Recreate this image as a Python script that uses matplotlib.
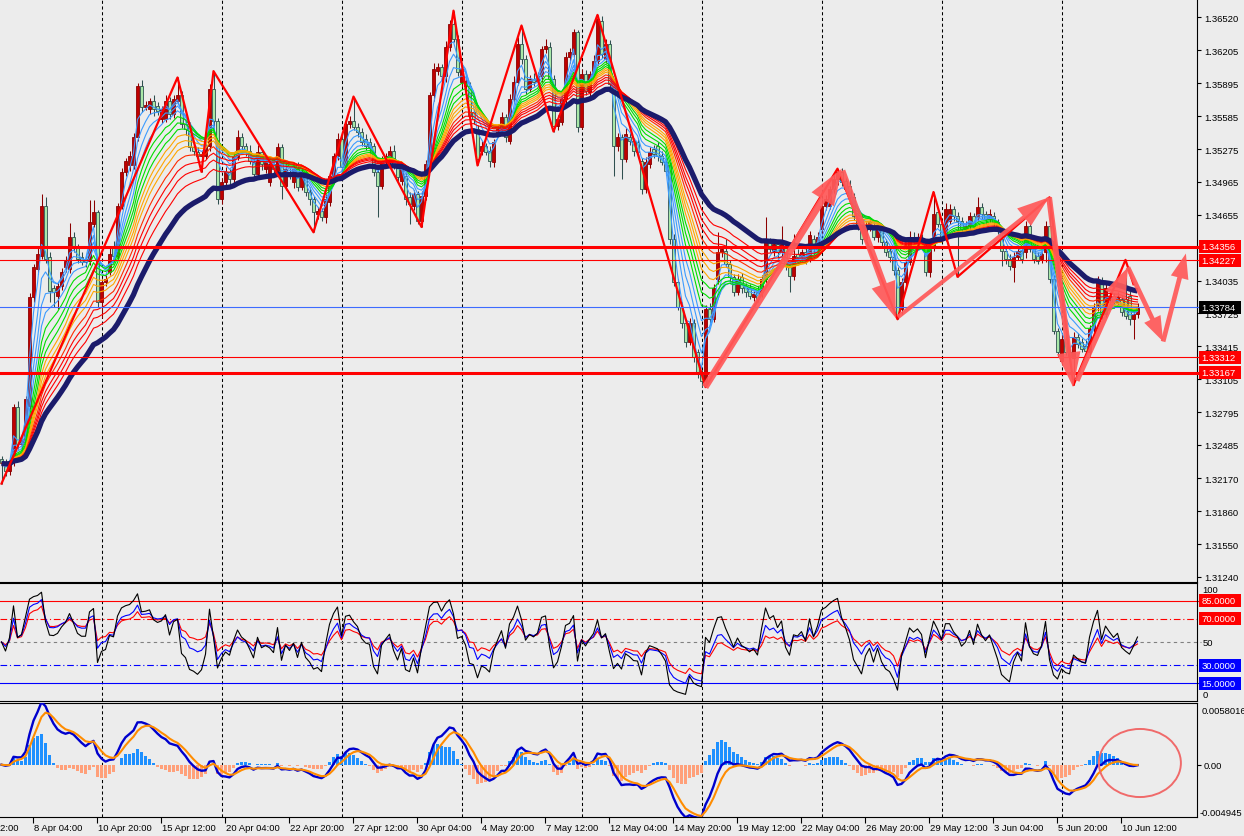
import numpy as np
import pandas as pd
import matplotlib
matplotlib.use("Agg")
import matplotlib.pyplot as plt
import matplotlib.transforms as mtransforms
from matplotlib.patches import Ellipse, Rectangle

plt.rcParams['font.family'] = ['Liberation Sans', 'DejaVu Sans']

# ---------------- data (H4 bars) ----------------
opens = [
 1.3235,1.3231,1.3224,1.3232,1.3284,1.3249,1.3251,1.3285,1.3388,1.3414,
 1.3427,1.3474,1.3426,1.3396,1.3389,1.3398,1.3416,1.3414,1.3445,1.3435,
 1.3426,1.3424,1.3422,1.3457,1.3468,1.3383,1.3402,1.3412,1.3435,1.3427,
 1.3474,1.3506,1.3512,1.3512,1.3539,1.3587,1.3567,1.3565,1.3573,1.3568,
 1.3556,1.3556,1.3573,1.3561,1.3573,1.3578,1.3551,1.3548,1.3529,1.3525,
 1.3521,1.3521,1.3530,1.3584,1.3554,1.3480,1.3496,1.3506,1.3499,1.3520,
 1.3539,1.3530,1.3526,1.3515,1.3504,1.3525,1.3509,1.3496,1.3513,1.3507,
 1.3529,1.3493,1.3506,1.3496,1.3509,1.3492,1.3506,1.3487,1.3480,1.3466,
 1.3469,1.3463,1.3478,1.3502,1.3521,1.3537,1.3511,1.3551,1.3554,1.3548,
 1.3544,1.3537,1.3534,1.3530,1.3506,1.3493,1.3515,1.3515,1.3526,1.3512,
 1.3497,1.3502,1.3482,1.3474,1.3485,1.3460,1.3483,1.3513,1.3578,1.3601,
 1.3605,1.3596,1.3624,1.3645,1.3631,1.3591,1.3587,1.3587,1.3562,1.3546,
 1.3526,1.3530,1.3526,1.3515,1.3542,1.3545,1.3558,1.3535,1.3575,1.3591,
 1.3627,1.3612,1.3584,1.3594,1.3592,1.3596,1.3622,1.3624,1.3594,1.3549,
 1.3553,1.3575,1.3614,1.3617,1.3638,1.3548,1.3598,1.3581,1.3598,1.3611,
 1.3648,1.3612,1.3627,1.3586,1.3530,1.3539,1.3518,1.3539,1.3535,1.3534,
 1.3516,1.3490,1.3513,1.3528,1.3530,1.3521,1.3515,1.3512,1.3443,1.3402,
 1.3379,1.3363,1.3346,1.3363,1.3336,1.3315,1.3309,1.3377,1.3367,1.3405,
 1.3430,1.3431,1.3419,1.3407,1.3393,1.3407,1.3398,1.3396,1.3388,1.3393,
 1.3393,1.3405,1.3441,1.3431,1.3438,1.3430,1.3436,1.3417,1.3408,1.3429,
 1.3426,1.3430,1.3424,1.3443,1.3433,1.3452,1.3474,1.3474,1.3490,1.3499,
 1.3506,1.3497,1.3493,1.3482,1.3464,1.3462,1.3443,1.3454,1.3455,1.3445,
 1.3452,1.3440,1.3431,1.3426,1.3413,1.3377,1.3402,1.3421,1.3445,1.3440,
 1.3443,1.3436,1.3412,1.3435,1.3468,1.3457,1.3445,1.3460,1.3471,1.3464,
 1.3460,1.3452,1.3455,1.3464,1.3463,1.3473,1.3466,1.3462,1.3464,1.3459,
 1.3443,1.3431,1.3424,1.3416,1.3426,1.3431,1.3430,1.3455,1.3433,1.3427,
 1.3424,1.3430,1.3455,1.3405,1.3356,1.3328,1.3348,1.3336,1.3330,1.3350,
 1.3346,1.3342,1.3336,1.3358,1.3379,1.3403,1.3372,1.3386,1.3389,1.3383,
 1.3386,1.3386,1.3389,1.3367,1.3372]
closes = [
 1.3231,1.3224,1.3233,1.3284,1.3249,1.3254,1.3292,1.3388,1.3416,1.3429,
 1.3474,1.3424,1.3394,1.3393,1.3398,1.3412,1.3422,1.3445,1.3435,1.3424,
 1.3421,1.3421,1.3459,1.3468,1.3383,1.3402,1.3405,1.3429,1.3427,1.3474,
 1.3506,1.3516,1.3521,1.3539,1.3587,1.3567,1.3569,1.3573,1.3565,1.3563,
 1.3565,1.3573,1.3561,1.3575,1.3578,1.3551,1.3546,1.3529,1.3526,1.3521,
 1.3523,1.3530,1.3584,1.3554,1.3480,1.3496,1.3506,1.3499,1.3520,1.3539,
 1.3530,1.3526,1.3516,1.3504,1.3525,1.3513,1.3515,1.3513,1.3509,1.3529,
 1.3493,1.3509,1.3502,1.3509,1.3492,1.3506,1.3487,1.3480,1.3468,1.3469,
 1.3463,1.3480,1.3502,1.3521,1.3537,1.3511,1.3551,1.3554,1.3548,1.3544,
 1.3534,1.3530,1.3529,1.3506,1.3493,1.3515,1.3521,1.3526,1.3512,1.3501,
 1.3509,1.3480,1.3476,1.3485,1.3460,1.3483,1.3513,1.3578,1.3603,1.3605,
 1.3596,1.3624,1.3645,1.3631,1.3600,1.3603,1.3592,1.3559,1.3556,1.3518,
 1.3530,1.3525,1.3516,1.3534,1.3546,1.3558,1.3539,1.3575,1.3591,1.3627,
 1.3612,1.3584,1.3594,1.3591,1.3596,1.3622,1.3625,1.3594,1.3549,1.3556,
 1.3575,1.3614,1.3619,1.3638,1.3548,1.3598,1.3582,1.3598,1.3611,1.3650,
 1.3617,1.3627,1.3589,1.3530,1.3539,1.3518,1.3542,1.3535,1.3526,1.3525,
 1.3490,1.3515,1.3525,1.3523,1.3521,1.3515,1.3507,1.3443,1.3402,1.3379,
 1.3363,1.3346,1.3363,1.3331,1.3317,1.3309,1.3377,1.3367,1.3396,1.3430,
 1.3433,1.3419,1.3407,1.3393,1.3405,1.3396,1.3393,1.3389,1.3391,1.3386,
 1.3405,1.3441,1.3433,1.3438,1.3430,1.3438,1.3417,1.3408,1.3427,1.3426,
 1.3430,1.3424,1.3446,1.3433,1.3445,1.3474,1.3480,1.3490,1.3499,1.3506,
 1.3496,1.3490,1.3482,1.3464,1.3455,1.3443,1.3454,1.3459,1.3445,1.3454,
 1.3440,1.3430,1.3426,1.3413,1.3370,1.3402,1.3421,1.3445,1.3440,1.3445,
 1.3440,1.3412,1.3435,1.3466,1.3457,1.3445,1.3471,1.3471,1.3464,1.3460,
 1.3452,1.3455,1.3464,1.3455,1.3473,1.3466,1.3462,1.3466,1.3459,1.3450,
 1.3431,1.3424,1.3417,1.3426,1.3431,1.3424,1.3455,1.3433,1.3424,1.3422,
 1.3429,1.3455,1.3405,1.3356,1.3336,1.3348,1.3336,1.3332,1.3350,1.3344,
 1.3339,1.3337,1.3358,1.3379,1.3403,1.3372,1.3396,1.3389,1.3383,1.3388,
 1.3374,1.3370,1.3367,1.3372,1.3378]
# upper / lower shadow lengths in pips
wick_up_pips = [
 3,4,5,3,6,4,3,4,3,5, 11,8,4,3,4,3,5,13,4,3, 4,3,20,11,2,3,4,5,6,3,
 4,3,5,4,3,6,4,3,5,4, 3,5,4,3,17,4,3,5,3,4, 3,4,5,17,3,4,5,3,4,6,
 4,3,5,4,6,3,4,3,5,4, 3,5,4,3,6,4,3,5,3,4, 3,5,4,3,6,4,3,5,23,4,
 3,5,4,3,4,6,3,4,5,3, 4,3,5,4,3,5,4,3,6,4, 3,5,4,13,4,3,5,4,3,4,
 5,3,4,3,5,4,3,4,5,6, 17,4,3,5,4,3,6,4,3,4, 3,5,4,3,2,5,4,3,5,4,
 5,4,3,6,4,3,5,4,3,4, 3,5,4,3,4,5,4,3,4,3, 4,3,5,4,3,4,3,5,4,19,
 3,12,4,3,5,4,3,4,3,5, 4,22,3,5,4,17,4,3,20,4, 3,5,4,3,4,6,4,3,5,3,
 4,3,5,4,3,4,5,3,4,3, 4,3,5,4,3,4,3,5,4,3, 4,5,3,21,4,3,6,5,3,4,
 3,5,4,3,9,4,3,5,4,3, 4,3,5,4,3,4,5,3,4,3, 4,5,27,4,3,5,4,3,5,4,
 3,5,4,3,5,4,6,4,3,5, 4,20,5,3,4]
wick_dn_pips = [
 19,5,4,3,4,5,4,3,5,4, 3,4,11,14,12,3,4,3,5,4, 3,5,4,3,4,15,4,3,5,4,
 3,4,5,3,4,5,3,4,6,3, 4,3,5,4,3,4,5,3,4,5, 15,3,4,5,4,4,3,5,4,3,
 4,5,3,4,3,5,4,3,4,5, 13,4,3,5,4,3,4,5,19,4, 3,5,4,3,4,5,3,4,3,5,
 4,3,5,4,30,3,4,5,3,4, 3,5,19,4,3,6,4,3,5,4, 3,5,4,3,4,5,4,3,5,6,
 4,3,5,4,3,4,5,3,4,3, 4,5,3,4,3,5,4,3,5,4, 3,4,5,3,4,2,4,5,3,4,
 4,3,5,28,4,19,3,4,5,3, 5,4,3,4,5,3,4,5,4,3, 4,5,3,4,5,6,6,4,3,5,
 4,3,5,4,3,4,5,3,4,3, 5,4,3,4,5,3,4,15,4,3, 4,5,3,4,3,5,4,3,4,5,
 3,4,5,3,4,5,3,4,3,5, 4,3,5,4,3,5,4,3,4,5, 3,4,5,4,3,5,4,3,4,53,
 4,3,5,4,3,4,5,3,4,3, 14,5,4,14,3,4,5,3,4,3, 4,9,4,3,5,4,3,4,25,4,
 3,5,4,3,4,5,3,4,5,3, 4,3,5,19,4]

zigzag_bars = [0, 44, 50, 53, 78, 88, 105, 113, 119, 130, 138, 149, 176, 209, 224, 233, 239, 262, 268, 281, 283]
zigzag_prices = [1.3212, 1.3595, 1.3506, 1.3601, 1.3449, 1.3577, 1.3454, 1.3658, 1.3512, 1.3644,
                 1.3544, 1.3654, 1.3303, 1.3509, 1.3367, 1.3487, 1.3407, 1.3482, 1.3305, 1.3423, 1.3400]

arrow_tails = [(175.9, 1.3303), (210.1, 1.3507), (224.1, 1.3369), (261.9, 1.3482),
               (268.9, 1.3309), (281.6, 1.3416), (290.4, 1.3346)]
arrow_tips = [(210.1, 1.3509), (223.6, 1.3368), (261.9, 1.3482), (267.9, 1.3303),
              (281.6, 1.3416), (290.4, 1.3346), (296.1, 1.3429)]
# (tail width, head width, head length) in units of the arrow scale
arrow_shapes = [(0.25, 0.95, 1.30), (0.25, 0.90, 1.30), (0.15, 0.80, 1.15), (0.21, 0.85, 1.25),
                (0.18, 0.80, 1.10), (0.17, 0.65, 0.90), (0.17, 0.65, 0.90)]

level_prices = [1.34356, 1.34227, 1.33784, 1.33312, 1.33167]
level_texts = ['1.34356', '1.34227', '1.33784', '1.33312', '1.33167']
price_ticks = [1.36520, 1.36205, 1.35895, 1.35585, 1.35275, 1.34965, 1.34655, 1.34035,
               1.33725, 1.33415, 1.33105, 1.32795, 1.32485, 1.32170, 1.31860, 1.31550, 1.31240]
price_tick_labels = ['1.36520', '1.36205', '1.35895', '1.35585', '1.35275', '1.34965', '1.34655',
                     '1.34035', '1.33725', '1.33415', '1.33105', '1.32795', '1.32485', '1.32170', '1.31860',
                     '1.31550', '1.31240']
osc_levels = [85, 70, 50, 30, 15]
date_labels = ['3 Apr 12:00', '8 Apr 04:00', '10 Apr 20:00', '15 Apr 12:00', '20 Apr 04:00', '22 Apr 20:00',
               '27 Apr 12:00', '30 Apr 04:00', '4 May 20:00', '7 May 12:00', '12 May 04:00', '14 May 20:00',
               '19 May 12:00', '22 May 04:00', '26 May 20:00', '29 May 12:00', '3 Jun 04:00', '5 Jun 20:00',
               '10 Jun 12:00']
date_label_bars = [-8.25 + 16 * j for j in range(len(date_labels))]
week_start_bars = [25, 55, 85, 115, 145, 175, 205, 235, 265]

# ---------------- derived indicators ----------------
o = np.array(opens)
c = np.array(closes)
n = len(c)
x = np.arange(n)
hi = np.maximum(o, c) + np.array(wick_up_pips) * 1e-4
lo = np.minimum(o, c) - np.array(wick_dn_pips) * 1e-4


def ema(s, span):
    return pd.Series(s).ewm(span=span, adjust=False).mean().values


def rsi(vals, period):
    ag = al = 0.0006
    out = []
    prev = vals[0]
    for v in vals:
        d = v - prev
        prev = v
        ag = (ag * (period - 1) + max(d, 0)) / period
        al = (al * (period - 1) + max(-d, 0)) / period
        out.append(100 * ag / (ag + al))
    return np.array(out)


macd = ema(c, 6) - ema(c, 13)
macd_sig = ema(macd, 4)
osma = macd - ema(macd, 9)

# ---------------- figure ----------------
BG = '#ECECEC'
W, H = 1244, 837
fig = plt.figure(figsize=(12.44, 8.37), dpi=100, facecolor=BG)


def rect(x0, y0, x1, y1):
    return [x0 / W, 1 - y1 / H, (x1 - x0) / W, (y1 - y0) / H]


ax1 = fig.add_axes(rect(0, 0, 1197, 582.7))
ax2 = fig.add_axes(rect(0, 584.3, 1197, 701.7), sharex=ax1)
ax3 = fig.add_axes(rect(0, 704, 1197, 818.3), sharex=ax1)

for ax in (ax1, ax2, ax3):
    ax.set_facecolor(BG)
    ax.spines['left'].set_visible(False)
    for s in ('right', 'top', 'bottom'):
        ax.spines[s].set_color('black')
        ax.spines[s].set_linewidth(0.8)
    for b in week_start_bars:
        ax.axvline(b, color='black', lw=0.75, ls=(0, (3, 2.5)), zorder=1)
    ax.tick_params(axis='x', which='both', bottom=False, top=False, labelbottom=False)
    ax.tick_params(axis='y', which='both', left=False, labelleft=False, right=True, labelright=True,
                   direction='out', length=3, width=0.8, pad=2, labelsize=6.8, colors='black')
ax1.spines['top'].set_visible(False)
ax1.set_xlim(-0.375, 298.875)

# box geometry for the right-hand value tags (axes-x fraction)
TAG_X0, TAG_W, TEXT_X = 1199 / 1197, 42 / 1197, 1201.5 / 1197

# ---- main price panel ----
ax1.set_ylim(1.311951, 1.36690)
ax1.set_yticks(price_ticks)
ax1.set_yticklabels(price_tick_labels)

up = c >= o
ax1.vlines(x[up], lo[up], hi[up], color='#8B0000', lw=0.75, zorder=2)
ax1.vlines(x[~up], lo[~up], hi[~up], color='#2F4F4F', lw=0.75, zorder=2)
body = np.maximum(np.abs(c - o), 0.00004)
bot = np.minimum(o, c)
ax1.bar(x[up], body[up], bottom=bot[up], width=0.6, color='#C00000', edgecolor='#8B0000', lw=0.6, zorder=2.1)
ax1.bar(x[~up], body[~up], bottom=bot[~up], width=0.6, color='#A8E8A8', edgecolor='#2F4F4F', lw=0.6, zorder=2.1)

ribbon = [(3, '#3C9BFF'), (5, '#3C9BFF'), (7, '#3C9BFF'), (9, '#3C9BFF'),
          (11, '#00DD00'), (13, '#00DD00'), (15, '#00DD00'),
          (17, '#FFA500'), (19, '#FFA500'), (21, '#FFA500'),
          (24, '#FF2A00'), (27, '#FF0000'), (30, '#FF0000'), (34, '#FF0000')]
for span, col in ribbon:
    ax1.plot(x, ema(c, span), color=col, lw=0.8, zorder=3)
ax1.plot(x, ema(c, 42), color='#1B1B6B', lw=3.8, zorder=4, solid_capstyle='butt')

ax1.plot(zigzag_bars, zigzag_prices, color='#FF0000', lw=1.6, zorder=5)

level_lw = [2.2, 0.8, 0.8, 0.8, 2.2]
level_col = ['#FF0000', '#FF0000', '#3D6BFF', '#FF0000', '#FF0000']
label_bg = ['#FF0000', '#FF0000', '#000000', '#FF0000', '#FF0000']
trans1 = mtransforms.blended_transform_factory(ax1.transAxes, ax1.transData)
tag_h1 = 13 / 10606.0
for p, t, lw_, col, bg in zip(level_prices, level_texts, level_lw, level_col, label_bg):
    ax1.axhline(p, xmin=0, xmax=1.003, color=col, lw=lw_, zorder=5, clip_on=False)
    ax1.add_patch(Rectangle((TAG_X0, p - tag_h1 / 2), TAG_W, tag_h1, transform=trans1, facecolor=bg,
                            edgecolor='none', zorder=8, clip_on=False))
    ax1.text(TEXT_X, p, t, transform=trans1, ha='left', va='center', fontsize=6.8, color='white',
             zorder=9, clip_on=False)

for (x0, p0), (x1_, p1), (tw, hw, hl) in zip(arrow_tails, arrow_tips, arrow_shapes):
    ax1.annotate('', xy=(x1_, p1), xytext=(x0, p0), annotation_clip=False, zorder=7,
                 arrowprops=dict(arrowstyle=f'simple,head_length={hl},head_width={hw},tail_width={tw}',
                                 facecolor='#FF5A5A', edgecolor='none', alpha=0.93,
                                 shrinkA=0, shrinkB=0, mutation_scale=20))

# ---- oscillator panel ----
ax2.set_ylim(0, 100)
ax2.set_yticks([])
trans2 = mtransforms.blended_transform_factory(ax2.transAxes, ax2.transData)
lvl_style = {85: ('#FF0000', '-'), 70: ('#FF0000', (0, (6, 2.5, 1, 2.5))), 50: ('#808080', (0, (3, 3))),
             30: ('#0000FF', (0, (6, 2.5, 1, 2.5))), 15: ('#0000FF', '-')}
for lv in osc_levels:
    col, ls = lvl_style[lv]
    ax2.axhline(lv, xmin=0, xmax=1.003, color=col, lw=0.8, ls=ls, zorder=2, clip_on=False)
tag_h2 = 13 * 100 / 117.4
for lv, bg in ((85, '#FF0000'), (70, '#FF0000'), (30, '#0000FF'), (15, '#0000FF')):
    ax2.add_patch(Rectangle((TAG_X0, lv - tag_h2 / 2), TAG_W, tag_h2, transform=trans2, facecolor=bg,
                            edgecolor='none', zorder=8, clip_on=False))
    ax2.text(TEXT_X, lv, f'{lv:.4f}', transform=trans2, ha='left', va='center', fontsize=6.8, color='white',
             zorder=9, clip_on=False)
for val, txt in ((94.4, '100'), (50, '50'), (5.6, '0')):
    ax2.text(1.0045, val, txt, transform=trans2, ha='left', va='center', fontsize=6.8, color='black',
             clip_on=False)
ax2.plot(x, rsi(c, 14), color='#FF0000', lw=0.8, zorder=3)
ax2.plot(x, rsi(c, 9), color='#0000FF', lw=0.8, zorder=4)
ax2.plot(x, rsi(c, 5), color='black', lw=0.8, zorder=5)

# ---- MACD panel ----
ax3.set_ylim(-0.004945, 0.0058016)
ax3.set_yticks([0.0])
ax3.set_yticklabels(['0.00'])
trans3 = mtransforms.blended_transform_factory(ax3.transAxes, ax3.transData)
ax3.text(1.0035, 0.005143, '0.0058016', transform=trans3, ha='left', va='center', fontsize=6.8, clip_on=False)
ax3.text(1.0020, -0.00445, '-0.004945', transform=trans3, ha='left', va='center', fontsize=6.8, clip_on=False)
ax3.bar(x, osma, width=0.7, color=np.where(osma >= 0, '#1E90FF', '#FFA07A'), zorder=2)
ax3.plot(x, macd, color='#0000CD', lw=1.7, zorder=3)
ax3.plot(x, macd_sig, color='#FF8C00', lw=1.5, zorder=4)
ax3.add_patch(Ellipse((284.6, 0.00016), width=20.5, height=0.0064, fill=False,
                      edgecolor='#F06A6A', lw=1.4, zorder=6, clip_on=False))

# bottom time axis
tick_bars = [b for b in date_label_bars if b > -0.375]
ax3.set_xticks(tick_bars)
ax3.tick_params(axis='x', which='both', bottom=True, direction='out', length=4, width=0.8, labelbottom=False)
trans_x = mtransforms.blended_transform_factory(ax3.transData, ax3.transAxes)
for b, lab in zip(date_label_bars, date_labels):
    ax3.text(b + 0.5, -0.085, lab, transform=trans_x, ha='left', va='center', fontsize=6.8,
             color='black', clip_on=False)

fig.savefig('out.png', dpi=100, facecolor=BG)
